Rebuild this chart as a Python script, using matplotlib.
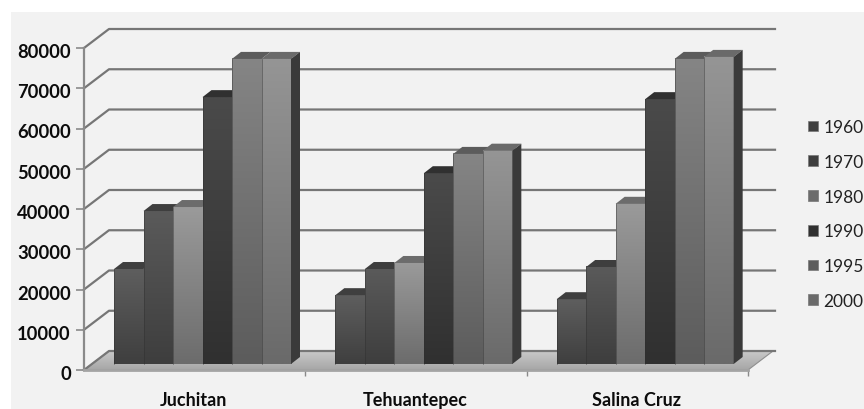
import matplotlib
matplotlib.use("Agg")
import matplotlib.pyplot as plt
import matplotlib.transforms as mtrans
import numpy as np
from matplotlib.patches import Polygon, Rectangle

towns = ["Juchitan", "Tehuantepec", "Salina Cruz"]
years = ["1960", "1970", "1980", "1990", "1995", "2000"]
pop_1960 = [23600, 17100, 16100]
pop_1970 = [38000, 23600, 24100]
pop_1980 = [39000, 25100, 39800]
pop_1990 = [66300, 47400, 65800]
pop_1995 = [75800, 52200, 75800]
pop_2000 = [75800, 53000, 76300]
yticks = [0, 10000, 20000, 30000, 40000, 50000, 60000, 70000, 80000]

series = [pop_1960, pop_1970, pop_1980, pop_1990, pop_1995, pop_2000]
# (light, dark) ends of the vertical gradient on each bar face
shades = [("#5e5e5e", "#3f3f3f"), ("#5a5a5a", "#3e3e3e"), ("#9a9a9a", "#6c6c6c"),
          ("#4a4a4a", "#303030"), ("#858585", "#5c5c5c"), ("#959595", "#6a6a6a")]

W, H = 864, 410
LEFT, RIGHT, TOP, BOTTOM = 84, 748, 49, 371
PX_X = 3 / (RIGHT - LEFT)
PX_Y = 80000 / (BOTTOM - TOP)


def dx(px):
    return px * PX_X


def dy(px):
    return px * PX_Y


def gradient(light, dark):
    grad = np.linspace(0, 1, 64)[:, None, None]
    c0 = np.array(matplotlib.colors.to_rgb(light))
    c1 = np.array(matplotlib.colors.to_rgb(dark))
    return (1 - grad) * c1 + grad * c0


fig = plt.figure(figsize=(W / 100, H / 100), dpi=100, facecolor="white")
fig.patches.append(Rectangle((11 / W, 0), 1 - 11 / W, 1 - 13 / H, transform=fig.transFigure,
                             facecolor="#f2f2f2", edgecolor="none", zorder=-5))
ax = fig.add_axes([LEFT / W, 1 - BOTTOM / H, (RIGHT - LEFT) / W, (BOTTOM - TOP) / H])
ax.patch.set_visible(False)
for side in ["top", "right"]:
    ax.spines[side].set_visible(False)
ax.spines["left"].set_color("#8a8a8a")
ax.spines["left"].set_linewidth(1.6)
ax.spines["bottom"].set_color("#a4a4a4")
ax.spines["bottom"].set_linewidth(2)

depth_x, depth_y = dx(25), dy(19)

# floor and gridlines running along the back wall
floor = Polygon([(0, 0), (depth_x, depth_y), (3 + depth_x, depth_y), (3, 0)],
                facecolor="none", edgecolor="#8f8f8f", lw=0.8, clip_on=False, zorder=1.1,
                transform=ax.transData)
ax.add_patch(floor)
floor_img = ax.imshow(gradient("#c9c9c9", "#a6a6a6"), extent=(0, 3 + depth_x, 0, depth_y),
                      origin="lower", aspect="auto", zorder=1, interpolation="bilinear")
floor_img.set_clip_path(floor)
floor_img.set_clip_box(fig.bbox)
for v in yticks:
    ax.plot([0, depth_x, 3 + depth_x + dx(2)], [v, v + depth_y, v + depth_y],
            color="#767676", lw=1.6, clip_on=False, zorder=1.5)

ax.set_xticks([1, 2, 3])
ax.set_xticklabels([])
ax.tick_params(axis="x", length=4.5, width=1, color="#8a8a8a", direction="out")
ax.set_yticks(yticks)
ax.set_yticklabels([str(v) for v in yticks], family="Lato", fontweight="bold", fontsize=13.2,
                   color="#0c0c0c")
ax.tick_params(axis="y", length=6, width=1.2, color="#8a8a8a", pad=3.5)
# the value labels sit slightly below their ticks
nudge = mtrans.ScaledTranslation(0, -2 / 100, fig.dpi_scale_trans)
for lab in ax.get_yticklabels():
    lab.set_transform(lab.get_transform() + nudge)
for i, name in enumerate(towns):
    ax.text(i + 0.5 + dx(-1), dy(-35.5), name, ha="center", va="baseline", family="Lato",
            fontweight="bold", fontsize=13, color="#0c0c0c", clip_on=False)

bar_w = dx(29.5)
base_x, base_y = dx(30), dy(6)
side_x, side_y = dx(9), dy(7)

for i in range(3):
    x0 = i + base_x
    for j, vals in enumerate(series):
        left = x0 + j * bar_w
        right = left + bar_w
        top = vals[i] + base_y
        light, dark = shades[j]
        ax.imshow(gradient(light, dark), extent=(left, right, base_y, top), origin="lower",
                  aspect="auto", zorder=3 + j * 0.01, interpolation="bilinear")
        ax.add_patch(Polygon([(left, top), (left + side_x, top + side_y),
                              (right + side_x, top + side_y), (right, top)],
                             facecolor=dark, edgecolor="none", zorder=3 + j * 0.01))
        ax.plot([left, left], [base_y, top], color="#2e2e2e", lw=0.5, alpha=0.6, zorder=3.5)
    # only the last bar's side is exposed, the rest sit behind their neighbours
    end = x0 + 6 * bar_w
    last = series[-1][i] + base_y
    ax.add_patch(Polygon([(end, base_y), (end + side_x, base_y + side_y),
                          (end + side_x, last + side_y), (end, last)],
                         facecolor="#3a3a3a", edgecolor="none", zorder=3.2))

ax.set_xlim(0, 3)
ax.set_ylim(0, 80000)

# legend swatches and years
handles = [Rectangle((0, 0), 1, 1, facecolor=s[1], edgecolor="#777777", lw=0.5) for s in shades]
fig.legend(handles, years, loc="center left", bbox_to_anchor=(808 / W, 1 - 215 / H), frameon=False,
           prop={"family": "Lato", "size": 12.5}, handlelength=0.57, handleheight=0.57,
           handletextpad=0.33, labelspacing=1.08, borderpad=0, borderaxespad=0, labelcolor="#222222")

fig.savefig("out.png", dpi=100, facecolor="white")
